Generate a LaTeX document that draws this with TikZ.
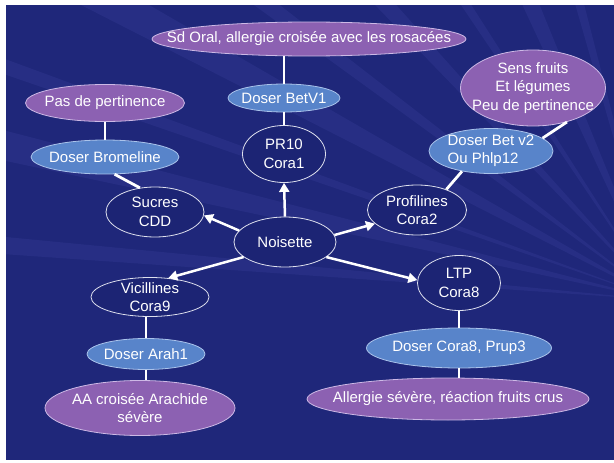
\documentclass[tikz,border=0pt]{standalone}
\usepackage{fontspec}
\setmainfont{Liberation Sans}
\usetikzlibrary{arrows.meta,shapes.geometric}

\definecolor{bgblue}{RGB}{31,39,122}
\definecolor{nightblue}{HTML}{1C2474}
\definecolor{rimwhite}{RGB}{222,224,238}
\definecolor{steel}{RGB}{88,132,202}
\definecolor{steelrim}{RGB}{170,195,235}
\definecolor{lilac}{RGB}{140,97,178}
\definecolor{lilacrim}{RGB}{205,185,230}

\begin{document}
\begin{tikzpicture}[
    % 1 unit = 1 pixel of the slide, y runs downwards
    x=1pt, y=-1pt,
    bubble/.style 2 args={ellipse, minimum width=#1, minimum height=#2, inner sep=0pt},
    deepbub/.style={fill=nightblue, draw=rimwhite, line width=0.8pt},
    midbub/.style={fill=steel, draw=steelrim, line width=0.8pt},
    softbub/.style={fill=lilac, draw=lilacrim, line width=0.8pt},
    txt/.style={text=white, align=center, inner sep=0pt, font=\fontsize{15}{18.5}\selectfont},
    link/.style={white, line width=2.8pt},
    pointer/.style={white, line width=2.5pt, -{Triangle[length=9pt, width=10pt]}},
    ray/.style={fill=blue!45!white, fill opacity=0.08}
]
    % --- Slide background ---
    \fill[white] (0,0) rectangle (614,463);
    \fill[bgblue] (6,5) rectangle (614,460);
    \begin{scope}
        \clip (6,5) rectangle (614,460);
        \coordinate (F) at (660,300);
        \foreach \a/\w in {184/1.5, 192/2.5, 199/1.2, 207/3, 216/1.8, 226/2.2,
                           236/1.4, 245/2.8, 254/1.6, 263/2.2, 272/1.2}
            \path[ray] (F) -- +(\a:1000) -- +(\a+\w:1000) -- cycle;
    \end{scope}

    % --- Centre ---
    \node[bubble={102}{50}, deepbub, label={[txt]center:Noisette}] (noisette) at (285,242) {};

    % --- PR10 branch ---
    \node[bubble={83}{57}, deepbub, label={[txt]center:{PR10\\Cora1}}] (prten) at (284,154) {};
    \node[bubble={112}{28}, midbub, label={[txt]center:Doser BetV1}] (betvone) at (284,98) {};
    \node[bubble={314}{34}, softbub, label={[txt]center:Sd Oral, allergie croisée avec les rosacées}] (sdoral) at (309,39) {};

    % --- Sucres branch ---
    \node[bubble={98}{50}, deepbub, label={[txt]center:{Sucres\\CDD}}] (sucres) at (155,212) {};
    \node[bubble={148}{34}, midbub, label={[txt]center:Doser Bromeline}] (bromel) at (105,157) {};
    \node[bubble={159}{37}, softbub, label={[txt]center:Pas de pertinence}] (pasper) at (105,103) {};

    % --- Profilines branch ---
    \node[bubble={99}{50}, deepbub, label={[txt]center:{Profilines\\Cora2}}] (profil) at (417,210) {};
    \node[bubble={124}{45}, midbub, label={[txt, align=left]center:{Doser Bet v2\\Ou Phlp12}}] (betvtwo) at (491,151) {};
    \node[bubble={145}{76}, softbub, label={[txt]center:{Sens fruits\\Et légumes\\Peu de pertinence}}] (sensfr) at (533,88) {};

    % --- Vicillines branch ---
    \node[bubble={118}{39}, deepbub, label={[txt]center:{Vicillines\\Cora9}}] (vicil) at (150,297) {};
    \node[bubble={118}{31}, midbub, label={[txt]center:Doser Arah1}] (arah) at (146,354) {};
    \node[bubble={190}{55}, softbub, label={[txt]center:{AA croisée Arachide\\sévère}}] (aacr) at (140,408) {};

    % --- LTP branch ---
    \node[bubble={83}{55}, deepbub, label={[txt]center:{LTP\\Cora8}}] (ltp) at (459,283) {};
    \node[bubble={185}{40}, midbub, label={[txt]center:{Doser Cora8, Prup3}}] (prup) at (459,348) {};
    \node[bubble={282}{42}, softbub, label={[txt]center:{Allergie sévère, réaction fruits crus}}] (allerg) at (448,399) {};

    % --- Arrows out of the centre ---
    \draw[pointer] (noisette.north) -- (prten.south);
    \draw[pointer] (noisette.166) -- (sucres.-4);
    \draw[pointer] (noisette.8) -- (profil.198);
    \draw[pointer] (noisette.200) -- (vicil.46);
    \draw[pointer] (noisette.-20) -- (ltp.176);

    % --- Plain links ---
    \draw[link] (prten) -- (betvone);
    \draw[link] (betvone.north) -- (betvone.north |- sdoral.south);
    \draw[link] (sucres.122) -- (bromel.-61);
    \draw[link] (bromel) -- (pasper);
    \draw[link] (profil.35) -- (betvtwo.215);
    \draw[link] (betvtwo.14) -- (sensfr.-45);
    \draw[link] (arah.north) -- (arah.north |- vicil.south);
    \draw[link] (arah.south) -- (arah.south |- aacr.north);
    \draw[link] (ltp) -- (prup);
    \draw[link] (prup) -- (prup |- allerg.north);
\end{tikzpicture}
\end{document}
